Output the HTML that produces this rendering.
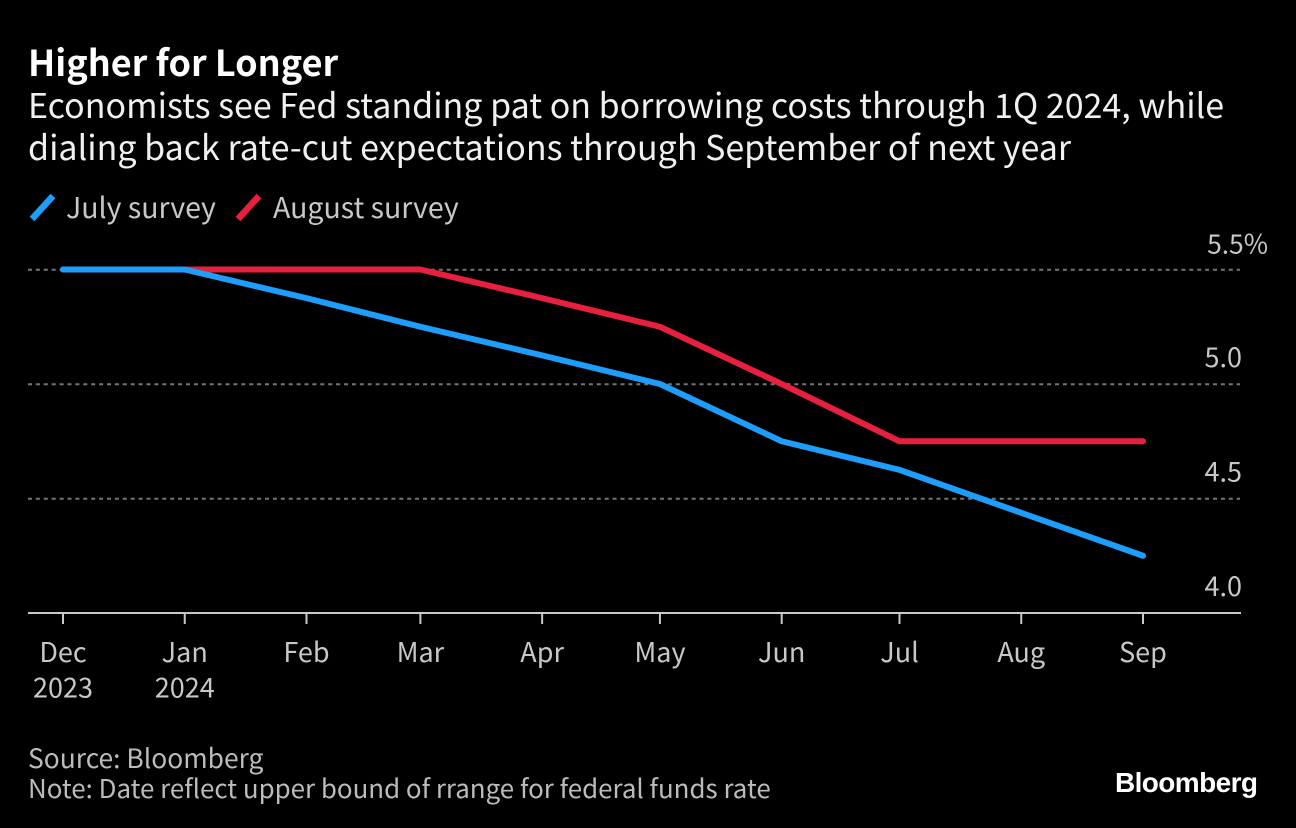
<!DOCTYPE html>
<html lang="en">
<head>
<meta charset="utf-8">
<title>Higher for Longer</title>
<style>
html,body{margin:0;padding:0;background:#000;width:1296px;height:828px;overflow:hidden}
svg{display:block}
text{font-family:"Noto Sans CJK JP","Liberation Sans",sans-serif}
</style>
</head>
<body>
<svg id="chart" xmlns="http://www.w3.org/2000/svg" width="1296" height="828" viewBox="0 0 1296 828">
<rect width="1296" height="828" fill="#000"/>
<text x="28" y="76" font-size="36" font-weight="700" fill="#fff">Higher for Longer</text>
<text x="28" y="118" font-size="34" fill="#f0f0f0">Economists see Fed standing pat on borrowing costs through 1Q 2024, while</text>
<text x="28" y="160" font-size="34" fill="#f0f0f0">dialing back rate-cut expectations through September of next year</text>
<g id="legend"></g>
<g id="grid"></g>
<g id="yaxis"></g>
<g id="xaxis"></g>
<g id="series"></g>
<text x="28" y="768" font-size="26.4" fill="#bcbcbc">Source: Bloomberg</text>
<text x="28" y="798" font-size="25.9" fill="#bcbcbc">Note: Date reflect upper bound of rrange for federal funds rate</text>
<text x="1115" y="792" font-size="28" font-weight="700" fill="#fff" style="font-family:'Liberation Sans',sans-serif" letter-spacing="-0.6">Bloomberg</text>
</svg>
<script>
const categories = ['2023-12-01','2024-01-01','2024-02-01','2024-03-01','2024-04-01','2024-05-01','2024-06-01','2024-07-01','2024-08-01','2024-09-01'];
const tickLabels = [['Dec','2023'],['Jan','2024'],['Feb'],['Mar'],['Apr'],['May'],['Jun'],['Jul'],['Aug'],['Sep']];
const julySurvey = [5.5,5.5,5.375,5.25,5.125,5.0,4.75,4.625,4.4375,4.25];
const augustSurvey = [5.5,5.5,5.5,5.5,5.375,5.25,5.0,4.75,4.75,4.75];
const yTicks = [5.5,5.0,4.5,4.0];
const yTickLabels = ['5.5%','5.0','4.5','4.0'];

const SVGNS = 'http://www.w3.org/2000/svg';
const t0 = Date.parse(categories[0]);
const t1 = Date.parse(categories[categories.length-1]);
function xScale(d){ return 63 + (Date.parse(d)-t0)/(t1-t0)*1080; }
function yScale(v){ return 269.5 + (5.5-v)/1.5*343.5; }
function make(tag, parent, attrs, text){
  const el = document.createElementNS(SVGNS, tag);
  for (const k in attrs) el.setAttribute(k, attrs[k]);
  if (text !== undefined) el.textContent = text;
  parent.appendChild(el);
  return el;
}
const grid = document.getElementById('grid');
const yaxis = document.getElementById('yaxis');
const xaxis = document.getElementById('xaxis');
const seriesG = document.getElementById('series');
const legend = document.getElementById('legend');

yTicks.forEach(function(v,i){
  const y = yScale(v);
  if (v !== yTicks[yTicks.length-1]) {
    const g = make('line', grid, {x1:28,x2:1240,y1:y+0.3,y2:y+0.3,stroke:'#757575','stroke-width':2,'stroke-dasharray':'4 3.9'});
    
    
  }
  const t = make('text', yaxis, {x:1242,y:y-17,'text-anchor':'end','font-size':27,fill:'#c8c8c8'}, yTickLabels[i]);
  
  
  if (i === 0) {
    t.setAttribute('x', 1268);
    t.setAttribute('font-size', 26.4);
    t.setAttribute('y', y-16);
  }
});

const axisLine = make('line', xaxis, {x1:28,x2:1241,y1:613,y2:613,stroke:'#c8c8c8','stroke-width':2});


categories.forEach(function(d,i){
  const x = xScale(d);
  const tk = make('line', xaxis, {x1:x,x2:x,y1:613,y2:624,stroke:'#c8c8c8','stroke-width':2});
  
  
  tickLabels[i].forEach(function(s,j){
    const t = make('text', xaxis, {x:x,y:662+j*35.5,'text-anchor':'middle','font-size':27,fill:'#c8c8c8'}, s);
    
    
  });
});

function drawSeries(values,color,name){
  const pts = values.map(function(v,i){ return xScale(categories[i]).toFixed(2)+','+yScale(v).toFixed(2); }).join(' ');
  const p = make('polyline', seriesG, {points:pts,fill:'none',stroke:color,'stroke-width':6,'stroke-linejoin':'round','stroke-linecap':'round'});
  
  
}
drawSeries(augustSurvey,'#e8203f','august-survey-line');
drawSeries(julySurvey,'#1e9dfa','july-survey-line');

const s1 = make('line', legend, {x1:32,y1:219,x2:53,y2:196,stroke:'#1e9dfa','stroke-width':6.5});


const l1 = make('text', legend, {x:66,y:218,'font-size':28.5,fill:'#c8c8c8'}, 'July survey');


const s2 = make('line', legend, {x1:238,y1:219,x2:259,y2:196,stroke:'#e8203f','stroke-width':6.5});


const l2 = make('text', legend, {x:273,y:218,'font-size':28.5,fill:'#c8c8c8'}, 'August survey');


</script>
</body>
</html>
